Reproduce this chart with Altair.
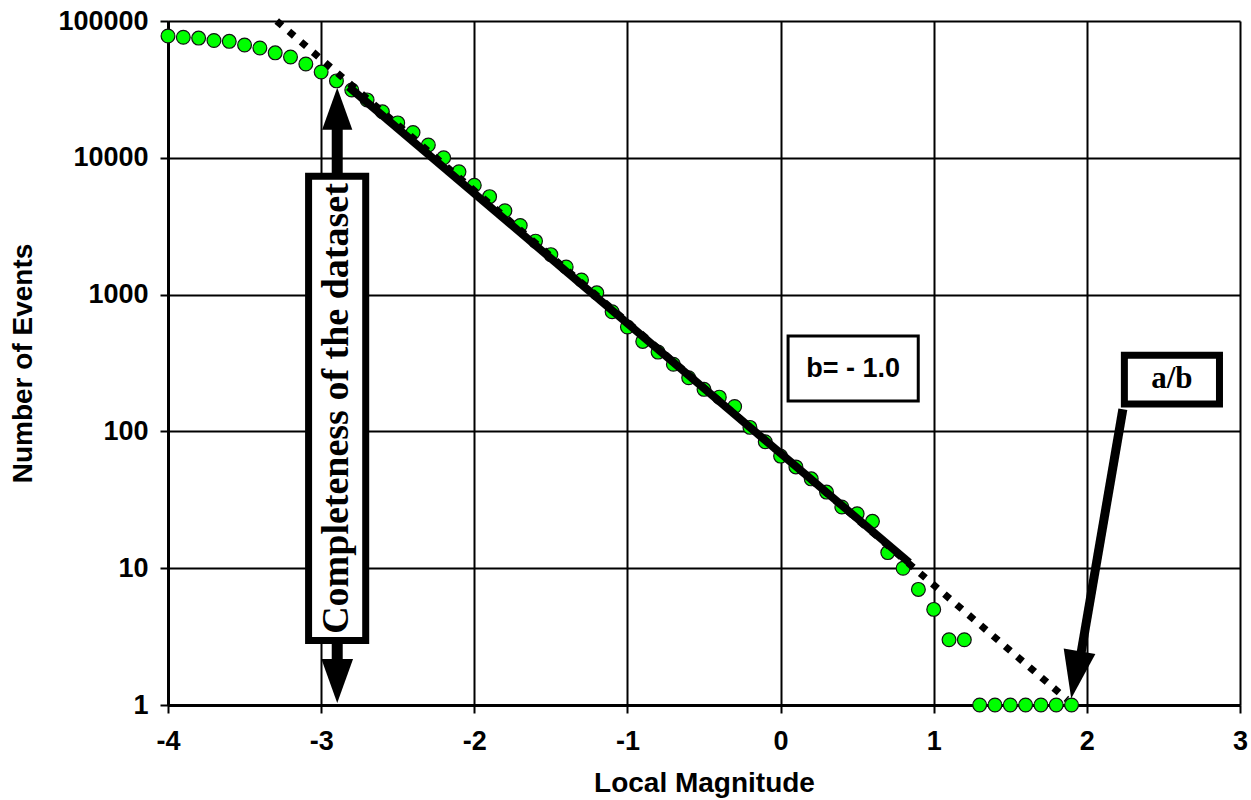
import altair as alt
import pandas as pd

# ---- data ----
magnitudes = [-4.0, -3.9, -3.8, -3.7, -3.6, -3.5, -3.4, -3.3, -3.2, -3.1,
              -3.0, -2.9, -2.8, -2.7, -2.6, -2.5, -2.4, -2.3, -2.2, -2.1,
              -2.0, -1.9, -1.8, -1.7, -1.6, -1.5, -1.4, -1.3, -1.2, -1.1,
              -1.0, -0.9, -0.8, -0.7, -0.6, -0.5, -0.4, -0.3, -0.2, -0.1,
              0.0, 0.1, 0.2, 0.3, 0.4, 0.5, 0.6, 0.7, 0.8, 0.9,
              1.0, 1.1, 1.2, 1.3, 1.4, 1.5, 1.6, 1.7, 1.8, 1.9]
events = [77600, 76000, 75000, 72000, 71000, 66800, 63500, 58500, 54500, 48500,
          42400, 36500, 31300, 26500, 21700, 18000, 15300, 12400, 10000, 7900,
          6300, 5200, 4100, 3200, 2460, 1960, 1590, 1280, 1030, 750,
          580, 455, 380, 310, 247, 203, 178, 152, 107, 84,
          66, 55, 45, 36, 28, 25, 22, 13, 10, 7,
          5, 3, 3, 1, 1, 1, 1, 1, 1, 1]

# Gutenberg-Richter fit (b = -1.0): dotted full extent and solid fitted range
fit_dotted_mag = [-3.29, 1.87]
fit_dotted_n = [100000, 1.1]
fit_solid_mag = [-2.82, 0.84]
fit_solid_n = [33000, 11]

x_ticks = [-4, -3, -2, -1, 0, 1, 2, 3]
y_ticks = [1, 10, 100, 1000, 10000, 100000]

# annotations (data coordinates)
compl_box = {"x0": -3.082, "x1": -2.709, "y0": 2.96, "y1": 7330}
compl_text = {"x": -2.895, "y": 147, "t": "Completeness of the dataset"}
compl_shaft = {"x": [-2.895, -2.895], "y": [17400, 2.0]}
compl_heads = {"x": [-2.895, -2.895], "y": [22800, 1.5], "dir": ["up", "down"]}
b_box = {"x0": 0.049, "x1": 0.899, "y0": 167, "y1": 498}
b_text = {"x": 0.474, "y": 284, "t": "b= - 1.0"}
ab_box = {"x0": 2.245, "x1": 2.866, "y0": 158.6, "y1": 361}
ab_text = {"x": 2.555, "y": 240, "t": "a/b"}
ab_shaft = {"x": [2.235, 1.961], "y": [145, 2.36]}
ab_head = {"x": 1.925, "y": 1.66}

xscale = alt.Scale(domain=[-4, 3], nice=False, zero=False)
yscale = alt.Scale(type="log", domain=[1, 100000], nice=False)
xaxis = alt.Axis(values=x_ticks, labelExpr="datum.value + ''", labelFlush=False,
                 labelPadding=15, titlePadding=15, labelOverlap=False)
yaxis = alt.Axis(values=y_ticks, labelExpr="datum.value + ''", labelPadding=12,
                 titlePadding=20, labelOverlap=False)


def X(f):
    return alt.X(f"{f}:Q", scale=xscale, axis=xaxis, title="Local Magnitude")


def Y(f):
    return alt.Y(f"{f}:Q", scale=yscale, axis=yaxis, title="Number of Events")


pts = pd.DataFrame({"mag": magnitudes, "n": events})
points = alt.Chart(pts).mark_point(
    shape="circle", filled=True, fill="#00ff00", stroke="#111111",
    strokeWidth=1.2, size=190, opacity=1
).encode(x=X("mag"), y=Y("n"))

dotted = alt.Chart(pd.DataFrame({"mag": fit_dotted_mag, "n": fit_dotted_n})).mark_line(
    color="black", strokeWidth=7, strokeDash=[7, 9], strokeCap="butt"
).encode(x=X("mag"), y=Y("n"))

solid = alt.Chart(pd.DataFrame({"mag": fit_solid_mag, "n": fit_solid_n})).mark_line(
    color="black", strokeWidth=8, strokeCap="butt"
).encode(x=X("mag"), y=Y("n"))

def box(d, sw):
    return alt.Chart(pd.DataFrame([d])).mark_rect(
        fill="white", stroke="black", strokeWidth=sw
    ).encode(x=X("x0"), x2=alt.X2("x1"), y=Y("y0"), y2=alt.Y2("y1"))

def shaft(d, sw):
    return alt.Chart(pd.DataFrame(d)).mark_line(
        color="black", strokeWidth=sw, strokeCap="butt"
    ).encode(x=X("x"), y=Y("y"))

up_path = "M 0 -1 L 0.72 1 L -0.72 1 Z"
down_path = "M 0 1 L 0.72 -1 L -0.72 -1 Z"
down_path_ab = "M 0 1 L 0.67 -1 L -0.67 -1 Z"

heads_df = pd.DataFrame(compl_heads)
head_up = alt.Chart(heads_df[heads_df["dir"] == "up"]).mark_point(
    shape=up_path, filled=True, fill="black", stroke="black", strokeWidth=0,
    size=1764, opacity=1
).encode(x=X("x"), y=Y("y"))
head_down = alt.Chart(heads_df[heads_df["dir"] == "down"]).mark_point(
    shape=down_path, filled=True, fill="black", stroke="black", strokeWidth=0,
    size=1936, opacity=1
).encode(x=X("x"), y=Y("y"))

compl_label = alt.Chart(pd.DataFrame([compl_text])).mark_text(
    font="Liberation Serif", fontWeight="bold", fontSize=38, angle=270,
    align="center", baseline="middle", color="black"
).encode(x=X("x"), y=Y("y"), text="t:N")

b_label = alt.Chart(pd.DataFrame([b_text])).mark_text(
    font="Liberation Sans", fontWeight="bold", fontSize=27,
    align="center", baseline="middle", color="black"
).encode(x=X("x"), y=Y("y"), text="t:N")

ab_label = alt.Chart(pd.DataFrame([ab_text])).mark_text(
    font="Liberation Serif", fontWeight="bold", fontSize=31,
    align="center", baseline="middle", color="black"
).encode(x=X("x"), y=Y("y"), text="t:N")

ab_arrowhead = alt.Chart(pd.DataFrame([ab_head])).mark_point(
    shape=down_path_ab, filled=True, fill="black", stroke="black", strokeWidth=0,
    size=2304, angle=10, opacity=1
).encode(x=X("x"), y=Y("y"))

chart = alt.layer(
    points, dotted, solid,
    shaft(compl_shaft, 11), box(compl_box, 7), compl_label, head_up, head_down,
    box(b_box, 3), b_label,
    shaft(ab_shaft, 9), box(ab_box, 7), ab_label, ab_arrowhead,
).properties(
    width=1072, height=684, autosize="none",
    padding={"left": 168, "top": 21, "right": 11, "bottom": 95},
    background="white",
).configure_view(stroke=None).configure_axis(
    domainColor="black", domainWidth=3, gridColor="black", gridWidth=2,
    gridOpacity=1, tickColor="black", tickWidth=2, tickSize=8,
    labelFont="Liberation Sans", labelFontWeight="bold", labelFontSize=27,
    labelColor="black", titleFont="Liberation Sans", titleFontWeight="bold",
    titleFontSize=28, titleColor="black",
)

chart.save("out.html", embed_options={"renderer": "svg", "actions": False})
